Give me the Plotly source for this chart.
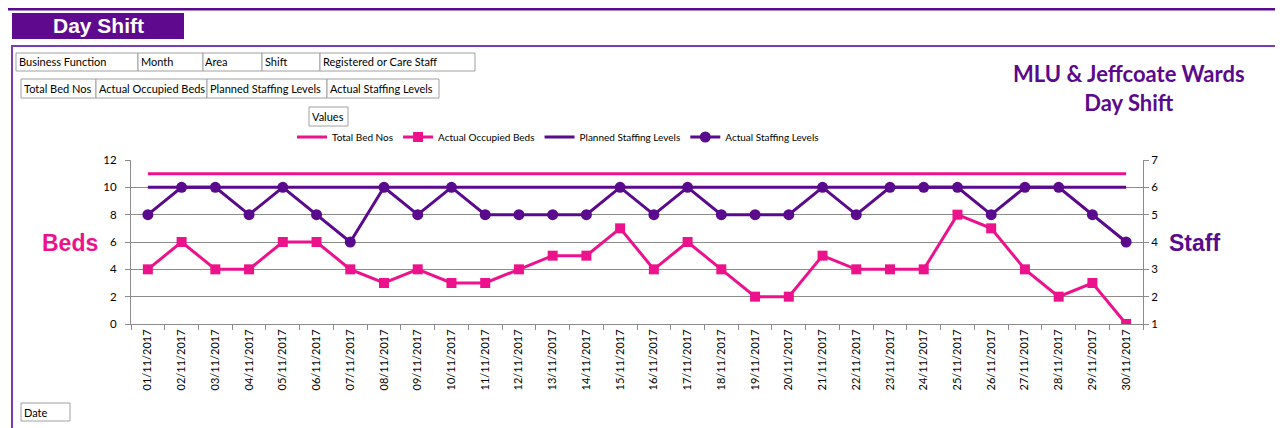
import plotly.graph_objects as go

dates = [f"{d:02d}/11/2017" for d in range(1, 31)]
total_beds = [11] * 30
occupied_beds = [4, 6, 4, 4, 6, 6, 4, 3, 4, 3, 3, 4, 5, 5, 7, 4, 6, 4, 2, 2, 5, 4, 4, 4, 8, 7, 4, 2, 3, 0]
planned_staff = [6] * 30
actual_staff = [5, 6, 6, 5, 6, 5, 4, 6, 5, 6, 5, 5, 5, 5, 6, 5, 6, 5, 5, 5, 6, 5, 6, 6, 6, 5, 6, 6, 5, 4]
beds_ticks = [0, 2, 4, 6, 8, 10, 12]
staff_ticks = [1, 2, 3, 4, 5, 6, 7]

PINK = "#EC128C"
PURPLE = "#5A0A8C"
BORDER2 = "#7B3DAE"
FONT = "Lato, 'Open Sans', sans-serif"

# page has an 8px body margin; the figure is sized to fit the window
OFF = 8
W, H = 1283 - OFF, 428 - OFF
def px(x): return (x - OFF) / W
def py(y): return 1 - (y - OFF) / H

fig = go.Figure()
fig.add_trace(go.Scatter(x=dates, y=total_beds, name="Total Bed Nos", mode="lines",
                         line=dict(color=PINK, width=3), yaxis="y"))
fig.add_trace(go.Scatter(x=dates, y=occupied_beds, name="Actual Occupied Beds", mode="lines+markers",
                         line=dict(color=PINK, width=3), marker=dict(symbol="square", size=10, color=PINK),
                         yaxis="y"))
fig.add_trace(go.Scatter(x=dates, y=planned_staff, name="Planned Staffing Levels", mode="lines",
                         line=dict(color=PURPLE, width=3), yaxis="y2"))
fig.add_trace(go.Scatter(x=dates, y=actual_staff, name="Actual Staffing Levels", mode="lines+markers",
                         line=dict(color=PURPLE, width=3), marker=dict(symbol="circle", size=11, color=PURPLE),
                         yaxis="y2"))

shapes = []
shapes.append(dict(type="line", xref="paper", yref="paper", x0=0, x1=1, y0=py(9), y1=py(9),
                   line=dict(color=PURPLE, width=3)))
shapes.append(dict(type="rect", xref="paper", yref="paper", x0=px(12), x1=px(1278), y0=py(46), y1=py(440),
                   line=dict(color=BORDER2, width=2)))
shapes.append(dict(type="rect", xref="paper", yref="paper", x0=px(12), x1=px(184), y0=py(13), y1=py(39),
                   fillcolor="#5F0A8E", line=dict(width=0)))

annotations = []
annotations.append(dict(text="<b>Day Shift</b>", xref="paper", yref="paper", x=px(99), y=py(26),
                        showarrow=False, font=dict(family="Liberation Sans, Arial", size=21, color="white"),
                        xanchor="center", yanchor="middle"))

boxes = [
    ("Business Function", 16, 138, 53, 71),
    ("Month", 138, 203, 53, 71),
    ("Area", 203, 262, 53, 71),
    ("Shift", 262, 320, 53, 71),
    ("Registered or Care Staff", 320, 475, 53, 71),
    ("Total Bed Nos", 21, 96, 79, 98),
    ("Actual Occupied Beds", 96, 207, 79, 98),
    ("Planned Staffing Levels", 207, 327, 79, 98),
    ("Actual Staffing Levels", 327, 439, 79, 98),
    ("Values", 309, 348, 107, 126),
    ("Date", 21, 70, 403, 421),
]
for label, x0, x1, y0, y1 in boxes:
    shapes.append(dict(type="rect", xref="paper", yref="paper", x0=px(x0), x1=px(x1), y0=py(y0), y1=py(y1),
                       line=dict(color="#A0A0A0", width=1), fillcolor="white"))
    annotations.append(dict(text=label, xref="paper", yref="paper", x=px(x0 + 0.5), y=py((y0 + y1) / 2),
                            xanchor="left", yanchor="middle", showarrow=False,
                            font=dict(family=FONT, size=11, color="black")))

annotations.append(dict(text="<b>MLU & Jeffcoate Wards<br>Day Shift</b>", xref="paper", yref="paper",
                        x=px(1129), y=py(88), xanchor="center", yanchor="middle", showarrow=False,
                        font=dict(family=FONT, size=22, color=PURPLE)))
annotations.append(dict(text="<b>Beds</b>", xref="paper", yref="paper", x=px(70), y=py(243),
                        xanchor="center", yanchor="middle", showarrow=False,
                        font=dict(family="Liberation Sans, Arial", size=23, color=PINK)))
annotations.append(dict(text="<b>Staff</b>", xref="paper", yref="paper", x=px(1194), y=py(243),
                        xanchor="center", yanchor="middle", showarrow=False,
                        font=dict(family="Liberation Sans, Arial", size=23, color=PURPLE)))

fig.update_layout(
    width=W, height=H,
    margin=dict(l=0, r=0, t=0, b=0, pad=0, autoexpand=False),
    paper_bgcolor="white", plot_bgcolor="white",
    font=dict(family=FONT, size=11, color="black"),
    shapes=shapes, annotations=annotations,
    showlegend=True,
    legend=dict(orientation="h", x=px(558), y=py(137), xanchor="center", yanchor="middle",
                font=dict(family=FONT, size=10, color="black"), bgcolor="rgba(0,0,0,0)",
                itemwidth=30, tracegroupgap=0),
    xaxis=dict(domain=[px(131), px(1143)], type="category", tickangle=-90, automargin=False,
               showline=True, linecolor="#8C8C8C", linewidth=1,
               ticks="outside", tickson="boundaries", ticklen=5, tickcolor="#8C8C8C",
               showgrid=False, tickfont=dict(family=FONT, size=11), range=[-0.5, 29.5]),
    yaxis=dict(domain=[py(324), py(160)], range=[0, 12], tickvals=beds_ticks, automargin=False,
               showline=True, linecolor="#8C8C8C", linewidth=1, ticks="outside", ticklen=5,
               tickcolor="#8C8C8C", showgrid=True, gridcolor="#8C8C8C", gridwidth=1,
               ticklabelstandoff=6,
               zeroline=False, tickfont=dict(family=FONT, size=11.5)),
    yaxis2=dict(overlaying="y", side="right", anchor="x", range=[1, 7], tickvals=staff_ticks,
                automargin=False,
                showline=True, linecolor="#8C8C8C", linewidth=1, ticks="outside", ticklen=5,
                tickcolor="#8C8C8C", showgrid=False, zeroline=False, tickfont=dict(family=FONT, size=11.5)),
)

fig.write_html("out.html")
